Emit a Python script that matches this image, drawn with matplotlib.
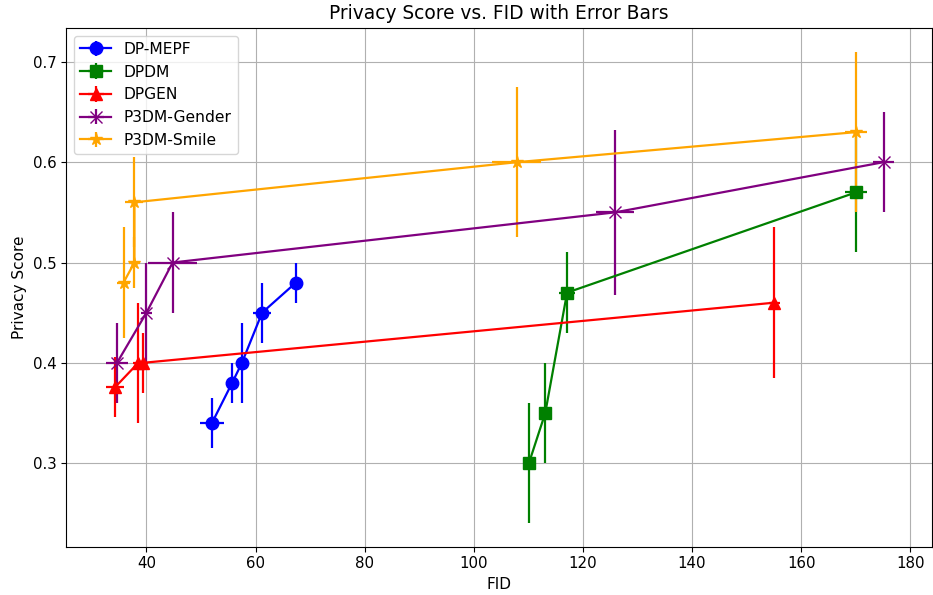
import matplotlib
matplotlib.use("Agg")
import matplotlib.pyplot as plt

labels = ["DP-MEPF", "DPDM", "DPGEN", "P3DM-Gender", "P3DM-Smile"]
colors = ["blue", "green", "red", "purple", "orange"]
markers = ["o", "s", "^", "x", "*"]

mepf_fid = [52.0, 55.7, 57.5, 61.2, 67.4]
mepf_score = [0.34, 0.38, 0.40, 0.45, 0.48]
mepf_fid_err = [2.2, 1.0, 1.0, 1.7, 1.0]
mepf_score_err = [0.025, 0.02, 0.04, 0.03, 0.02]

dpdm_fid = [110.1, 113.1, 117.1, 170.1]
dpdm_score = [0.30, 0.35, 0.47, 0.57]
dpdm_fid_err = [1.0, 1.0, 1.5, 2.0]
dpdm_score_err = [0.06, 0.05, 0.04, 0.06]

dpgen_fid = [34.3, 38.5, 39.3, 155.1]
dpgen_score = [0.376, 0.40, 0.40, 0.46]
dpgen_fid_err = [1.65, 1.0, 1.0, 1.0]
dpgen_score_err = [0.03, 0.06, 0.03, 0.075]

gender_fid = [34.6, 40.0, 44.8, 125.9, 175.1]
gender_score = [0.40, 0.45, 0.50, 0.55, 0.60]
gender_fid_err = [2.0, 1.0, 4.5, 3.5, 2.0]
gender_score_err = [0.04, 0.05, 0.05, 0.082, 0.05]

smile_fid = [35.8, 37.8, 37.8, 107.9, 170.1]
smile_score = [0.48, 0.50, 0.56, 0.60, 0.63]
smile_fid_err = [1.2, 1.0, 1.65, 4.5, 2.0]
smile_score_err = [0.055, 0.025, 0.045, 0.075, 0.08]

series = [
    (mepf_fid, mepf_score, mepf_fid_err, mepf_score_err),
    (dpdm_fid, dpdm_score, dpdm_fid_err, dpdm_score_err),
    (dpgen_fid, dpgen_score, dpgen_fid_err, dpgen_score_err),
    (gender_fid, gender_score, gender_fid_err, gender_score_err),
    (smile_fid, smile_score, smile_fid_err, smile_score_err),
]

fig = plt.figure(figsize=(9.33, 5.95), dpi=100)
ax = fig.add_axes([0.071, 0.0812, 0.928, 0.8722])

for (x, y, xe, ye), lab, c, m in zip(series, labels, colors, markers):
    ax.errorbar(x, y, xerr=xe, yerr=ye, label=lab, color=c, marker=m,
                markersize=9, linewidth=1.6)

ax.set_xlim(25.3, 184.0)
ax.set_ylim(0.2168, 0.734)
ax.set_title("Privacy Score vs. FID with Error Bars", fontsize=13.4)
ax.set_xlabel("FID", fontsize=11)
ax.set_ylabel("Privacy Score", fontsize=11)
ax.tick_params(labelsize=10.8)
ax.grid(True)
ax.legend(loc="upper left", fontsize=11.2)

fig.savefig("out.png", dpi=100)
